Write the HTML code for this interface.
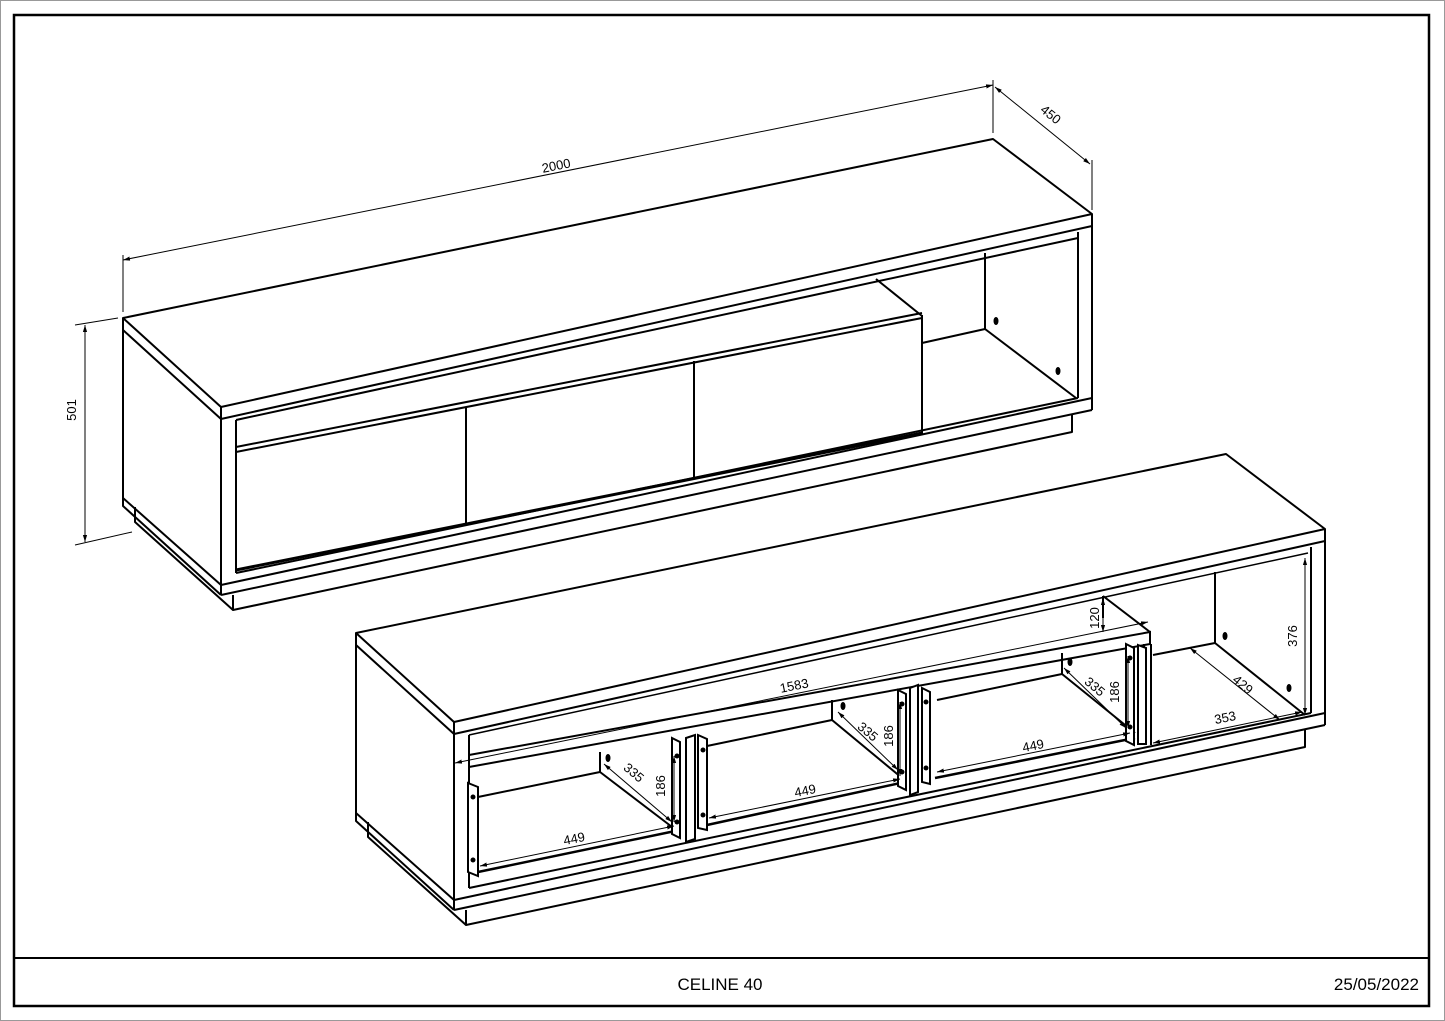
<!DOCTYPE html>
<html><head><meta charset="utf-8"><style>
html,body{margin:0;padding:0;background:#fff;}
svg{display:block;}
text{font-family:"Liberation Sans",sans-serif;fill:#000;}
</style></head><body>
<svg width="1445" height="1021" viewBox="0 0 1445 1021" xmlns="http://www.w3.org/2000/svg">
<rect x="0.5" y="0.5" width="1444" height="1020" fill="#fff" stroke="#999" stroke-width="1"/>
<rect x="14" y="15" width="1415" height="991" fill="none" stroke="#000" stroke-width="2.5"/>
<line x1="14" y1="958" x2="1429" y2="958" stroke="#000" stroke-width="2"/>
<text x="720" y="990" font-size="17" text-anchor="middle">CELINE 40</text>
<text x="1419" y="990" font-size="17" text-anchor="end">25/05/2022</text>

<defs>
<marker id="ar" viewBox="0 0 10 10" refX="10" refY="5" markerWidth="7" markerHeight="7" orient="auto-start-reverse"><path d="M0,2 L10,5 L0,8 z" fill="#000"/></marker>
<g id="shell" fill="none" stroke="#000" stroke-width="2" stroke-linejoin="round">
  <!-- top slab -->
  <polygon points="123,318 993,139 1092,214 221,407" fill="#fff"/>
  <polyline points="123,318 123,330 221,419 1092,226 1092,214"/>
  <line x1="221" y1="407" x2="221" y2="419"/>
  <!-- left side -->
  <line x1="123" y1="330" x2="123" y2="498"/>
  <polyline points="123,498 123,506 221,595"/>
  <line x1="123" y1="498" x2="221" y2="585"/>
  <line x1="221" y1="419" x2="221" y2="595"/>
  <!-- plinth -->
  <polyline points="135,507 135,522 233,610 1072,432 1072,415"/>
  <line x1="233" y1="595" x2="233" y2="610"/>
  <!-- bottom strip -->
  <line x1="221" y1="585" x2="1092" y2="398"/>
  <line x1="221" y1="595" x2="1092" y2="410"/>
  <line x1="1092" y1="226" x2="1092" y2="410"/>
  <line x1="236" y1="573" x2="1078" y2="398"/>
  <line x1="1078" y1="232" x2="1078" y2="398"/>
  <line x1="236" y1="420" x2="236" y2="573"/>
</g>
</defs>

<!-- TOP UNIT -->
<use href="#shell"/>
<g fill="none" stroke="#000" stroke-width="2">
  <line x1="236" y1="420" x2="1078" y2="238"/>
  <!-- drawers -->
  <line x1="236" y1="447" x2="922" y2="313"/>
  <line x1="236" y1="452" x2="922" y2="318"/>
  <line x1="466" y1="407" x2="466" y2="525"/>
  <line x1="694" y1="361" x2="694" y2="478"/>
  <line x1="922" y1="315" x2="922" y2="435"/>
  <line x1="236" y1="570" x2="922" y2="433" stroke-width="3"/>
  <!-- open compartment -->
  <line x1="876" y1="279" x2="922" y2="316"/>
  <line x1="922" y1="343" x2="985" y2="329"/>
  <line x1="985" y1="253" x2="985" y2="329"/>
  <line x1="985" y1="329" x2="1076" y2="398"/>
</g>
<ellipse cx="996" cy="321" rx="2.5" ry="4" fill="#000"/>
<ellipse cx="1058" cy="371" rx="2.5" ry="4" fill="#000"/>

<!-- top dimensions -->
<g stroke="#000" stroke-width="1" fill="none">
  <line x1="123" y1="255" x2="123" y2="312"/>
  <line x1="993" y1="80" x2="993" y2="133"/>
  <line x1="123" y1="260" x2="993" y2="85" marker-start="url(#ar)" marker-end="url(#ar)"/>
  <line x1="1092" y1="160" x2="1092" y2="210"/>
  <line x1="995" y1="87" x2="1090" y2="164" marker-start="url(#ar)" marker-end="url(#ar)"/>
  <line x1="75" y1="325" x2="118" y2="318"/>
  <line x1="75" y1="545" x2="132" y2="532"/>
  <line x1="85" y1="325" x2="85" y2="542" marker-start="url(#ar)" marker-end="url(#ar)"/>
</g>
<text x="557" y="170" font-size="13" transform="rotate(-11.4 557 170)" text-anchor="middle">2000</text>
<text x="1048" y="118" font-size="13" transform="rotate(39 1048 118)" text-anchor="middle">450</text>
<text x="76" y="410" font-size="13" transform="rotate(-90 76 410)" text-anchor="middle">501</text>

<!-- BOTTOM UNIT -->
<use href="#shell" transform="translate(233,315)"/>
<g fill="none" stroke="#000" stroke-width="2">
  <!-- upper inner rail -->
  <line x1="469" y1="735" x2="1308" y2="553" stroke-width="1.5"/>
  <polyline points="469,755 1150,632 1150,644 469,767"/>
  <line x1="1103" y1="596" x2="1150" y2="632"/>
  <line x1="1103" y1="596" x2="1103" y2="618"/>
  <line x1="1151" y1="644" x2="1151" y2="745"/>
  <line x1="1144" y1="644" x2="1144" y2="745"/>
  <!-- right open compartment -->
  <line x1="1153" y1="655" x2="1215" y2="643"/>
  <line x1="1215" y1="572" x2="1215" y2="643"/>
  <line x1="1215" y1="643" x2="1305" y2="715"/>
  <!-- compartment backs -->
  <line x1="478" y1="797" x2="600" y2="772"/>
  <line x1="600" y1="752" x2="600" y2="772"/>
  <line x1="600" y1="772" x2="676" y2="830"/>
  <line x1="707" y1="746" x2="832" y2="720"/>
  <line x1="832" y1="700" x2="832" y2="720"/>
  <line x1="832" y1="720" x2="902" y2="778"/>
  <line x1="937" y1="700" x2="1062" y2="674"/>
  <line x1="1062" y1="653" x2="1062" y2="674"/>
  <line x1="1062" y1="674" x2="1135" y2="733"/>
  <!-- compartment bottoms -->
  <line x1="478" y1="872" x2="680" y2="830" stroke-width="2.5"/>
  <line x1="707" y1="825" x2="905" y2="782" stroke-width="2.5"/>
  <line x1="935" y1="778" x2="1135" y2="738" stroke-width="2.5"/>
  <!-- brackets / dividers -->
  <polygon points="468,783 478,787 478,876 468,872" fill="#fff"/>
  <polygon points="672,738 680,742 680,838 672,834" fill="#fff"/>
  <polygon points="686,738 695,735 695,839 686,842" fill="#fff"/>
  <polygon points="698,735 707,739 707,830 698,828" fill="#fff"/>
  <polygon points="898,690 906,694 906,790 898,786" fill="#fff"/>
  <polygon points="910,688 918,685 918,792 910,795" fill="#fff"/>
  <polygon points="922,688 930,692 930,784 922,782" fill="#fff"/>
  <polygon points="1126,644 1134,648 1134,745 1126,741" fill="#fff"/>
  <polygon points="1138,645 1146,648 1146,744 1138,744" fill="#fff"/>
</g>
<g fill="#000">
  <circle cx="473" cy="797" r="2.5"/><circle cx="473" cy="860" r="2.5"/>
  <circle cx="677" cy="756" r="2.5"/><circle cx="677" cy="822" r="2.5"/>
  <circle cx="703" cy="750" r="2.5"/><circle cx="703" cy="815" r="2.5"/>
  <circle cx="902" cy="704" r="2.5"/><circle cx="902" cy="772" r="2.5"/>
  <circle cx="926" cy="702" r="2.5"/><circle cx="926" cy="768" r="2.5"/>
  <circle cx="1130" cy="658" r="2.5"/><circle cx="1130" cy="727" r="2.5"/>
  <ellipse cx="608" cy="758" rx="2.5" ry="4"/>
  <ellipse cx="843" cy="706" rx="2.5" ry="4"/>
  <ellipse cx="1070" cy="662" rx="2.5" ry="4"/>
  <ellipse cx="1225" cy="636" rx="2.5" ry="4"/>
  <ellipse cx="1289" cy="688" rx="2.5" ry="4"/>
</g>
<!-- bottom dimensions -->
<g stroke="#000" stroke-width="1" fill="none">
  <line x1="455" y1="763" x2="1148" y2="622" marker-start="url(#ar)" marker-end="url(#ar)"/>
  <line x1="1103" y1="598" x2="1103" y2="632" marker-start="url(#ar)" marker-end="url(#ar)"/>
  <line x1="1305" y1="558" x2="1305" y2="715" marker-start="url(#ar)" marker-end="url(#ar)"/>
  <line x1="1190" y1="648" x2="1280" y2="720" marker-start="url(#ar)" marker-end="url(#ar)"/>
  <line x1="1153" y1="743" x2="1302" y2="712" marker-start="url(#ar)" marker-end="url(#ar)"/>
  <line x1="480" y1="866" x2="674" y2="826" marker-start="url(#ar)" marker-end="url(#ar)"/>
  <line x1="709" y1="818" x2="900" y2="779" marker-start="url(#ar)" marker-end="url(#ar)"/>
  <line x1="937" y1="772" x2="1130" y2="733" marker-start="url(#ar)" marker-end="url(#ar)"/>
  <line x1="604" y1="764" x2="672" y2="822" marker-start="url(#ar)" marker-end="url(#ar)"/>
  <line x1="838" y1="712" x2="898" y2="770" marker-start="url(#ar)" marker-end="url(#ar)"/>
  <line x1="1064" y1="668" x2="1126" y2="728" marker-start="url(#ar)" marker-end="url(#ar)"/>
  <line x1="674" y1="756" x2="674" y2="822" marker-start="url(#ar)" marker-end="url(#ar)"/>
  <line x1="900" y1="702" x2="900" y2="776" marker-start="url(#ar)" marker-end="url(#ar)"/>
  <line x1="1128" y1="656" x2="1128" y2="728" marker-start="url(#ar)" marker-end="url(#ar)"/>
</g>
<g font-size="13">
  <text x="795" y="690" transform="rotate(-11.4 795 690)" text-anchor="middle">1583</text>
  <text x="1099" y="618" transform="rotate(-90 1099 618)" text-anchor="middle">120</text>
  <text x="1297" y="636" transform="rotate(-90 1297 636)" text-anchor="middle">376</text>
  <text x="1240" y="688" transform="rotate(40 1240 688)" text-anchor="middle">429</text>
  <text x="1226" y="722" transform="rotate(-11.4 1226 722)" text-anchor="middle">353</text>
  <text x="575" y="843" transform="rotate(-11.4 575 843)" text-anchor="middle">449</text>
  <text x="806" y="795" transform="rotate(-11.4 806 795)" text-anchor="middle">449</text>
  <text x="1034" y="750" transform="rotate(-11.4 1034 750)" text-anchor="middle">449</text>
  <text x="631" y="776" transform="rotate(40 631 776)" text-anchor="middle">335</text>
  <text x="865" y="735" transform="rotate(40 865 735)" text-anchor="middle">335</text>
  <text x="1092" y="690" transform="rotate(40 1092 690)" text-anchor="middle">335</text>
  <text x="665" y="786" transform="rotate(-90 665 786)" text-anchor="middle">186</text>
  <text x="893" y="736" transform="rotate(-90 893 736)" text-anchor="middle">186</text>
  <text x="1119" y="692" transform="rotate(-90 1119 692)" text-anchor="middle">186</text>
</g>
</svg>
</body></html>
